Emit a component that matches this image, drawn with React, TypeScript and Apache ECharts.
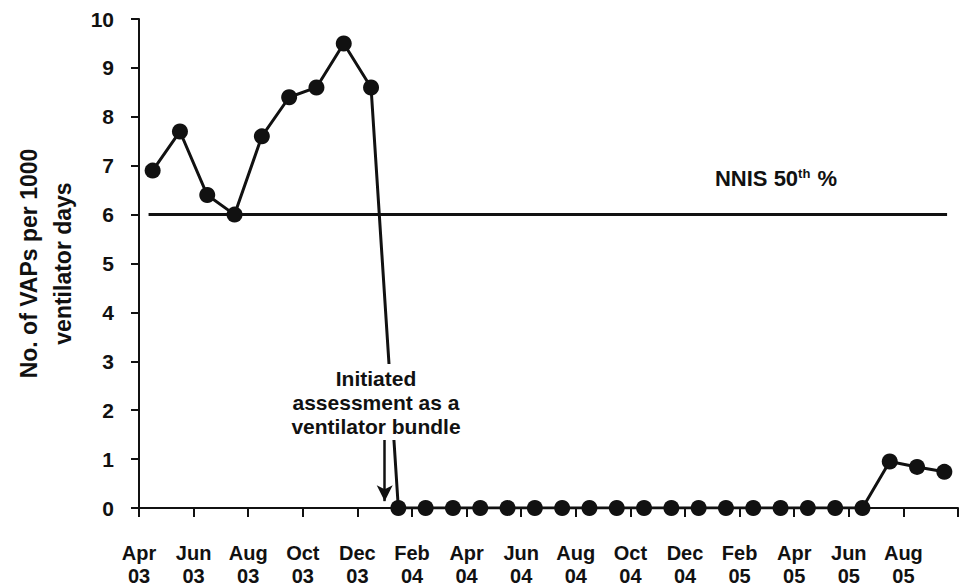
import React, { useEffect, useRef } from "react";
import * as echarts from "echarts";

// Monthly VAP rates, Apr 03 .. Sep 05 (one value per month)
const MONTHS = [
  "Apr 03", "May 03", "Jun 03", "Jul 03", "Aug 03", "Sep 03", "Oct 03", "Nov 03", "Dec 03",
  "Jan 04", "Feb 04", "Mar 04", "Apr 04", "May 04", "Jun 04", "Jul 04", "Aug 04", "Sep 04",
  "Oct 04", "Nov 04", "Dec 04", "Jan 05", "Feb 05", "Mar 05", "Apr 05", "May 05", "Jun 05",
  "Jul 05", "Aug 05", "Sep 05",
];
const VAP_RATES = [
  6.9, 7.7, 6.4, 6.0, 7.6, 8.4, 8.6, 9.5, 8.6,
  0, 0, 0, 0, 0, 0, 0, 0, 0,
  0, 0, 0, 0, 0, 0, 0, 0, 0,
  0.95, 0.84, 0.74,
];
// Tick labels, one every two months (at the month boundaries)
const TICK_LABELS = [
  "Apr\n03", "Jun\n03", "Aug\n03", "Oct\n03", "Dec\n03", "Feb\n04", "Apr\n04", "Jun\n04",
  "Aug\n04", "Oct\n04", "Dec\n04", "Feb\n05", "Apr\n05", "Jun\n05", "Aug\n05",
];
const NNIS_VALUE = 6;
const NNIS_SPAN = [0.35, 29.6];
const INTERVENTION_AT = 9; // boundary between Dec 03 and Jan 04
const ARROW_FROM = 1.4;
const ARROW_TO = 0.14;

const FONT = "Liberation Sans, Arial, Helvetica, sans-serif";

export default function App() {
  const ref = useRef<HTMLDivElement>(null);
  useEffect(() => {
    if (!ref.current) return;
    const chart = echarts.init(ref.current, null, { renderer: "svg" });
    const seriesData = VAP_RATES.map((v, i) => [i + 0.5, v]);
    chart.setOption({
      animation: false,
      backgroundColor: "#ffffff",
      grid: { left: 139, right: 13, top: 19, bottom: 80, outerBoundsMode: "none" },
      xAxis: {
        type: "value",
        min: 0,
        max: MONTHS.length,
        interval: 2,
        axisLine: { show: true, lineStyle: { color: "#111", width: 2 } },
        axisTick: { show: true, length: 9, lineStyle: { color: "#111", width: 2 } },
        splitLine: { show: false },
        axisLabel: {
          margin: 33,
          fontFamily: FONT,
          fontWeight: "bold",
          fontSize: 20,
          lineHeight: 23,
          color: "#111",
          showMaxLabel: true,
          showMinLabel: true,
          formatter: (v: number) => TICK_LABELS[Math.round(v / 2)] ?? "",
        },
      },
      yAxis: {
        type: "value",
        min: 0,
        max: 10,
        interval: 1,
        name: "No. of VAPs per 1000\nventilator days",
        nameLocation: "middle",
        nameGap: 53,
        nameTextStyle: {
          fontFamily: FONT,
          fontWeight: "bold",
          fontSize: 23,
          lineHeight: 34,
          color: "#111",
        },
        axisLine: { show: true, lineStyle: { color: "#111", width: 2 } },
        axisTick: { show: true, length: 8, lineStyle: { color: "#111", width: 2 } },
        splitLine: { show: false },
        axisLabel: {
          margin: 25,
          fontFamily: FONT,
          fontWeight: "bold",
          fontSize: 21,
          color: "#111",
        },
      },
      series: [
        {
          type: "line",
          data: seriesData,
          symbol: "circle",
          symbolSize: 16,
          lineStyle: { color: "#111", width: 3 },
          itemStyle: { color: "#111" },
          z: 3,
          markLine: {
            silent: true,
            symbol: ["none", "none"],
            label: { show: false },
            lineStyle: { color: "#111", width: 3, type: "solid" },
            data: [
              [
                { coord: [NNIS_SPAN[0], NNIS_VALUE] },
                { coord: [NNIS_SPAN[1], NNIS_VALUE] },
              ],
            ],
          },
        },
        {
          type: "line",
          data: [],
          z: 5,
          markLine: {
            silent: true,
            symbol: ["none", "arrow"],
            symbolSize: [12, 16],
            label: { show: false },
            lineStyle: { color: "#111", width: 2.5, type: "solid" },
            itemStyle: { color: "#111" },
            data: [
              [
                { coord: [INTERVENTION_AT, ARROW_FROM] },
                { coord: [INTERVENTION_AT, ARROW_TO] },
              ],
            ],
          },
        },
      ],
      graphic: [
        {
          type: "text",
          z: 100,
          x: 376,
          y: 402,
          style: {
            text: "Initiated\nassessment as a\nventilator bundle",
            fill: "#111",
            font: `bold 21px ${FONT}`,
            align: "center",
            verticalAlign: "middle",
            lineHeight: 24,
            backgroundColor: "#ffffff",
            padding: [2, 2],
          },
        },
        {
          type: "text",
          z: 100,
          x: 776,
          y: 178,
          style: {
            text: "{a|NNIS 50}{b|th}{a| %}",
            align: "center",
            verticalAlign: "middle",
            rich: {
              a: { fontFamily: FONT, fontWeight: "bold", fontSize: 22, fill: "#111", color: "#111" },
              b: {
                fontFamily: FONT,
                fontWeight: "bold",
                fontSize: 13,
                fill: "#111",
                color: "#111",
                padding: [0, 1, 10, 0],
              },
            },
          },
        },
      ],
    });
    return () => chart.dispose();
  }, []);
  return (
    <div
      ref={ref}
      style={{ position: "absolute", left: 0, top: 0, width: 971, height: 588 }}
    />
  );
}
